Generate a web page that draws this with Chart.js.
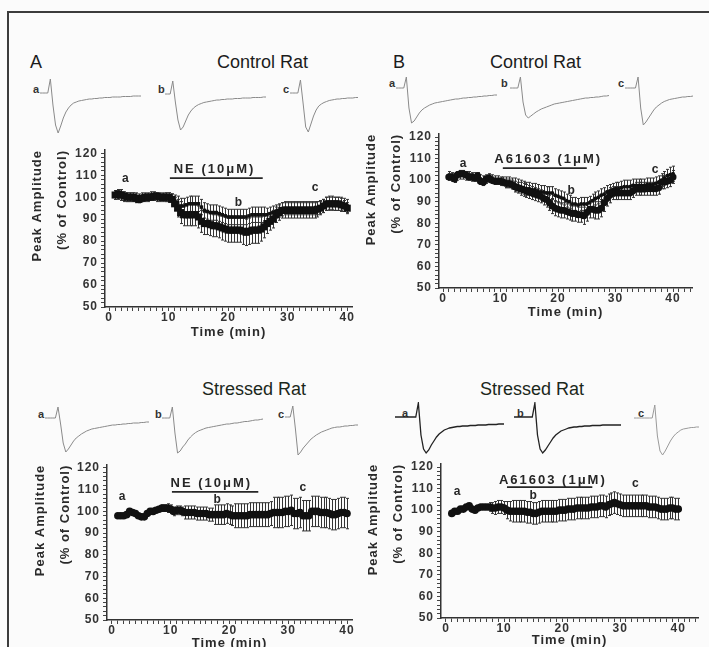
<!DOCTYPE html>
<html><head><meta charset="utf-8">
<script src="https://cdn.jsdelivr.net/npm/chart.js@4.4.1/dist/chart.umd.min.js"></script>
<style>
html,body{margin:0;padding:0;width:709px;height:647px;overflow:hidden;background:#fbfbfb;}
#root{position:relative;width:709px;height:647px;overflow:hidden;}
canvas{position:absolute;}
.t{position:absolute;font-family:"Liberation Sans",Arial,sans-serif;line-height:1;white-space:nowrap;color:#1c1c1c;}
.big{font-size:18px;}
.stress{color:#1b281b;}
.lab{font-size:11px;font-weight:bold;color:#333;}
.frameTop{position:absolute;left:7px;top:11px;width:702px;height:2px;background:#3c3c3c;}
.frameLeft{position:absolute;left:7px;top:11px;width:2px;height:636px;background:#3c3c3c;}
</style></head><body><div id="root">
<div class="frameTop"></div><div class="frameLeft"></div>
<div class="t big" style="left:30px;top:53px">A</div>
<div class="t big" style="left:217px;top:53px">Control Rat</div>
<div class="t big" style="left:393px;top:53px">B</div>
<div class="t big" style="left:490px;top:53px">Control Rat</div>
<div class="t big stress" style="left:202px;top:380px">Stressed Rat</div>
<div class="t big stress" style="left:480px;top:380px">Stressed Rat</div>
<div class="t lab" style="left:33px;top:84px">a</div>
<div class="t lab" style="left:158px;top:84px">b</div>
<div class="t lab" style="left:283px;top:84px">c</div>
<div class="t lab" style="left:389px;top:78px">a</div>
<div class="t lab" style="left:501px;top:78px">b</div>
<div class="t lab" style="left:618px;top:78px">c</div>
<div class="t lab" style="left:38px;top:409px">a</div>
<div class="t lab" style="left:155px;top:409px">b</div>
<div class="t lab" style="left:278px;top:409px">c</div>
<div class="t lab" style="left:402px;top:408px">a</div>
<div class="t lab" style="left:517px;top:408px">b</div>
<div class="t lab" style="left:638px;top:408px">c</div>
</div>
<script>
// ---------- data ----------
const timeMin = [1,1.5,2,2.5,3,3.5,4,4.5,5,5.5,
 6,6.5,7,7.5,8,8.5,9,9.5,10,10.5,
 11,11.5,12,12.5,13,13.5,14,14.5,15,15.5,
 16,16.5,17,17.5,18,18.5,19,19.5,20,20.5,
 21,21.5,22,22.5,23,23.5,24,24.5,25,25.5,
 26,26.5,27,27.5,28,28.5,29,29.5,30,30.5,
 31,31.5,32,32.5,33,33.5,34,34.5,35,35.5,
 36,36.5,37,37.5,38,38.5,39,39.5,40];
const xTickLabels = [0,10,20,30,40];
const yTickLabels = [50,60,70,80,90,100,110,120];

// Control rat, NE (10 uM)
const ctrlNE_mean = [101,101.5,101,100.5,100,100,100,99.5,99,99.5,
 100,100,100,100.5,100.5,100,100,100,100,99,
 97,95,93,92,92,92,92,92,91,89,
 88,88,87.5,87,87,86.5,86,85.5,85,85,
 85,85,85,84.5,84,84.5,85,85,85,85.5,
 86.5,88,89,90,92,93,94,94,94,94,
 94,94,94,94,94,94,94,94,94.5,95,
 96,97,97,97,97,97,96.5,96,95];
const ctrlNE_sem = [2,2,2.5,2,2,2,2,2,1.5,1.5,
 1.5,1.5,1.5,1.5,1.5,1.5,1.5,2,2,2.5,
 3,4,5,5,5,5,5,5,5,5,
 5,5,5,5,5,5,5.5,5.5,5.5,5.5,
 5.5,5.5,5.5,6,6,6,6,6,6,5.5,
 5,4.5,4,4,3.5,3.5,3.5,3.5,3.5,3.5,
 3.5,3.5,3.5,3.5,3.5,3.5,3.5,3.5,3.5,3,
 3,3,3,3,3,3,3,2.5,2.5];
const ctrlNE2_mean = [101,101,100.5,100,100,100,100,100,99.5,100,
 100,100,100.5,100.5,100,100,100,100,100,99.5,
 98.5,97.5,96,96,96.5,97,97,97,97,95.5,
 94,93.5,93,93,93,92.5,92,91.5,91,91,
 91,91,91,91,91,91.5,92,92,92,92,
 92,92,92.5,93,93.5,94,94.5,95,95,95,
 95,95,95,95,95,95,95,95,95,95.5,
 96,97,97.5,97.5,97,97,97,96.5,96];
const ctrlNE2_sem = [2,2,2,2,2,2,2,2,2,2,
 2,2,2,2,2,2,2,2,2,2,
 2.5,3,3.5,3.5,3.5,3.5,3.5,3.5,3.5,3.5,
 3.5,3.5,3.5,3.5,3.5,3.5,3.5,3.5,3.5,3.5,
 3.5,3.5,3.5,3.5,3.5,3.5,3.5,3.5,3.5,3.5,
 3.5,3,3,3,3,3,3,3,3,3,
 3,3,3,3,3,3,3,3,3,3,
 3,3,3,3,3,3,3,3,3];

// Control rat, A61603 (1 uM)
const ctrlA6_mean = [101.5,101.5,100.5,102.5,103,103,102.5,101.5,101.5,101,
 102,99.5,99,100.5,101,100,99.5,99.5,99.5,99,
 98.5,98.5,98,97,96.5,96,95.5,95,94.5,94,
 93.5,93,92.5,91.5,91,89.5,88,87,86.5,86,
 86,85.5,85,84.5,84.5,84,84,83.5,85,86.5,
 86.5,86,86,87,89.5,91.5,93,94,94,94,
 94,94,94,94,95,96,96,96,96,96,
 96,96,96,96.5,99,99,99.5,100,101.5];
const ctrlA6_sem = [1.5,1.5,1.5,1.5,1.5,1.5,1.5,1.5,1.5,1.5,
 1.5,1.5,1.5,1.5,1.5,1.5,1.5,1.5,1.5,1.5,
 2,2,2,2.5,2.5,3,3,3,3,3,
 3,3,3,3,3.5,3.5,3.5,3.5,3.5,3.5,
 3.5,3.5,3.5,3.5,3.5,3.5,3.5,4,4,4,
 4,4,4,4,4,3.5,3.5,3,3,3,
 3,3,3,3,3,3,3,3,3,3,
 3,3,3,3,3,3,3,3,3];
const ctrlA62_mean = [102,101.5,101,102,102.5,102.5,102,102,101.5,101.5,
 101.5,100.5,100,100.5,101,100.5,100,100,99.5,99.5,
 99,99,98.5,98,97.5,97,96.5,96,96,95.5,
 95.5,95,94.5,94.5,94,94,94,93,92.5,92,
 91.5,90.5,90,89,89,88.5,89,89,89,89.5,
 90.5,91.5,92,93,93.5,94.5,95,95.5,96,96,
 96.5,97,97,97,97.5,97.5,97.5,97.5,97.5,98,
 98,98,98.5,99,100,101,102,102.5,103];
const ctrlA62_sem = [2,2,2,2,2,2,2,2,2,2,
 2,2,2,2,2,2,2,2,2,2,
 2.5,2.5,2.5,3,3,3,3,3,3,3,
 3,3,3,3,3,3,3,3,3,3,
 3,3,3,3,3,3,3,3,3,3,
 3,3,3,3,3,3,3,3,3,3,
 3,3,3,3,3,3,3,3,3,3,
 3,3,3,3,3,3,3,3.5,3.5];

// Stressed rat, NE (10 uM)
const strNE_mean = [98,98,98,98.5,100,99.5,99,98,97.5,97.5,
 99,100,100,100.5,101,101.5,101.5,101.5,101,100,
 100.5,100.5,100,99.5,99.5,99.5,99.5,99,99,99,
 99,98.5,98.5,98.5,98.5,98.5,98.5,99,98.5,98,
 98,98,98,98,98,98.5,98.5,98.5,98.5,98.5,
 98.5,98.5,99,99.5,99.5,99.5,99.5,100,100,100.5,
 99,99,99.5,98,98,98,100,100,100,99.5,
 99.5,99.5,99,98.5,98.5,99,99.5,99.5,99];
const strNE_sem = [1,1,1,1,1,1,1,1,1,1,
 1,1,1,1,1,1.5,1.5,2,2,2,
 2,2,2,3,3,3,3,3,3,3,
 3,3,3,4.5,4.5,4.5,4.5,4.5,4.5,4.5,
 5.5,5.5,5.5,5.5,5.5,5.5,5.5,5.5,5.5,5.5,
 5.5,5.5,5.5,7,7,7,7,7,7,7,
 7,7,7,7,7,7,7,7,7,7,
 7,7,7,7,7,7,7,7,7];

// Stressed rat, A61603 (1 uM)
const strA6_mean = [98.5,99.5,99.5,100.5,100.5,101.5,102,100.5,100,101,
 101.5,101.5,101.5,101.5,101,101,101.5,101.5,101,100,
 99.5,99.5,99.5,99.5,99.5,99.5,99,99,98.5,98.5,
 99,99.5,99.5,99.5,99.5,99.5,99.5,100,100,100,
 100.5,100.5,100.5,101,101,101,101,101,101.5,101.5,
 101.5,102,102,101.5,102.5,103,103.5,103,102.5,102,
 102,102,102,102,102,102,102,102,101.5,101.5,
 101.5,101,100.5,100.5,100.5,101,101,100.5,100.5];
const strA6_sem = [1,1,1,1,1,1,1,1,1,1,
 1,1,1,2,2.5,3,3,3,3,4,
 4.5,5,5,5,5,5,5,5,5,5,
 5,5,5,5,5,5,5,5,5,5,
 5,5,5,5,5,5,5,5,5,5,
 5,5,5,5,5,5,5,5,5,5,
 5,5,5,5,5,5,5,5,5,5,
 5,5,5,5,5,5,5,5,5];

// example current traces (baseline = 0, arbitrary units)
const trCtrlNE_a = [0,0,0,0,14,-12,-32,-40,-33,-25,-19,-15,-12,-10,-9,-8,-7.5,-7,-6.5,-6,-6,-5.5,-5.5,-5,-5,-4.5,-4.5,-4.5,-4,-4,-4,-4,-3.5,-3.5,-3.5,-3.5,-3,-3,-3,-3];
const trCtrlNE_b = [0,0,0,13,-8,-26,-36,-33,-27,-21,-17,-14,-12,-10.5,-9.5,-8.5,-8,-7.5,-7,-6.5,-6,-6,-5.5,-5.5,-5,-5,-5,-4.5,-4.5,-4.5,-4,-4,-4,-4,-3.5,-3.5,-3.5,-3.5,-3,-3];
const trCtrlNE_c = [0,0,0,0,13,-10,-34,-39,-31,-23,-17,-13,-11,-9.5,-8.5,-7.5,-7,-6.5,-6,-6,-5.5,-5.5,-5,-5,-5,-4.5,-4.5];
const trCtrlA6_a = [0,0,0,0,11,-20,-35,-33,-29,-25,-22,-20,-18.5,-17,-16,-15,-14.5,-14,-13.5,-13,-12.5,-12,-11.5,-11,-11,-10.5,-10,-10,-9.5,-9.5,-9,-9,-8.5,-8.5,-8,-8,-7.5,-7.5,-7,-7];
const trCtrlA6_b = [0,0,0,0,11,-14,-27,-30,-28,-26,-24,-22.5,-21,-20,-19,-18,-17,-16,-15.5,-15,-14.5,-14,-13.5,-13,-12.5,-12,-11.5,-11,-10.5,-10,-10,-9.5,-9.5,-9,-9,-8.5,-8,-8,-7.5];
const trCtrlA6_c = [0,0,0,0,0,11,-20,-37,-34,-30,-26,-22,-19,-17,-15,-13.5,-12.5,-11.5,-11,-10.5,-10,-9.5,-9,-9,-8.5,-8.5,-8];
const trStrNE_a = [0,0,0,0,0,11,-6,-25,-34,-31,-27,-23,-20,-18,-16,-14.5,-13,-12,-11,-10.5,-10,-9.5,-9,-8.5,-8,-7.5,-7,-7,-6.5,-6.5,-6,-6,-5.5,-5.5,-5,-5,-5,-4.5,-4.5,-4,-4];
const trStrNE_b = [0,0,0,0,11,-15,-35,-33,-29,-26,-22,-19,-16.5,-14.5,-13,-12,-11,-10,-9.5,-9,-8.5,-8,-7.5,-7,-6.5,-6,-6,-5.5,-5,-5,-4.5,-4,-3.5,-3.5,-3,-2.5,-2,-2,-1.5,-1];
const trStrNE_c = [0,0,0,11,-12,-38,-35,-31,-28,-25,-22,-20,-18,-16.5,-15,-14,-13,-12,-11,-10.5,-10,-10,-9.5,-9,-9,-8.5,-8.5,-8,-8];
const trStrA6_a = [0,0,0,0,0,0,0,0,0,14,-18,-32,-36,-33,-28,-24,-20,-17,-15,-13,-12,-11,-10.5,-10,-9.5,-9.5,-9,-9,-9,-8.5,-8.5,-8.5,-8,-8,-8,-8,-7.5,-7.5,-7.5,-7.5,-7,-7,-7];
const trStrA6_b = [0,0,0,0,0,0,0,0,14,-18,-32,-36,-33,-29,-25,-21,-18,-16,-14,-13,-12,-11,-10.5,-10,-10,-9.5,-9.5,-9,-9,-9,-8.5,-8.5,-8.5,-8.5,-8,-8,-8,-8,-8,-8,-8,-8];
const trStrA6_c = [0,0,0,0,0,0,0,0,13,-18,-33,-37,-33,-28,-23,-19,-16,-14,-12,-11,-10.5,-10,-9.5,-9.5,-9,-9];

// ---------- rendering ----------
const FONT = '"Liberation Sans", Arial, sans-serif';
const root = document.getElementById('root');

const spacingPlugin = {
  id: 'spacing',
  beforeDraw(chart) { chart.ctx.letterSpacing = '1px'; }
};

const errorBarPlugin = {
  id: 'errorBars',
  beforeDatasetsDraw(chart) {
    const ctx = chart.ctx, xs = chart.scales.x, ys = chart.scales.y;
    chart.data.datasets.forEach(ds => {
      if (!ds.errors) return;
      ctx.save();
      ctx.strokeStyle = ds.errorColor || '#333';
      ctx.lineWidth = 1;
      ds.data.forEach((p, i) => {
        const e = ds.errors[i];
        const x = Math.round(xs.getPixelForValue(p.x)) + 0.5;
        const y1 = ys.getPixelForValue(p.y + e), y2 = ys.getPixelForValue(p.y - e);
        ctx.beginPath();
        ctx.moveTo(x, y1); ctx.lineTo(x, y2);
        ctx.moveTo(x - 1.5, y1); ctx.lineTo(x + 1.5, y1);
        ctx.moveTo(x - 1.5, y2); ctx.lineTo(x + 1.5, y2);
        ctx.stroke();
      });
      ctx.restore();
    });
  }
};

const annotPlugin = {
  id: 'annot',
  afterDatasetsDraw(chart, args, opts) {
    if (!opts || !opts.bar) return;
    const ctx = chart.ctx, xs = chart.scales.x, ys = chart.scales.y;
    ctx.save();
    ctx.strokeStyle = '#262626'; ctx.lineWidth = 1.8;
    const by = ys.getPixelForValue(opts.bar.y);
    ctx.beginPath();
    ctx.moveTo(xs.getPixelForValue(opts.bar.from), by);
    ctx.lineTo(xs.getPixelForValue(opts.bar.to), by);
    ctx.stroke();
    ctx.fillStyle = '#262626';
    ctx.font = 'bold 13px ' + FONT;
    ctx.letterSpacing = '2px';
    ctx.textAlign = 'center'; ctx.textBaseline = 'alphabetic';
    ctx.fillText(opts.bar.text, xs.getPixelForValue(opts.bar.textX), ys.getPixelForValue(opts.bar.textY));
    ctx.letterSpacing = '0px';
    ctx.font = 'bold 12px ' + FONT;
    ctx.textBaseline = 'middle';
    opts.letters.forEach(l => ctx.fillText(l.t, xs.getPixelForValue(l.x), ys.getPixelForValue(l.y)));
    ctx.restore();
  }
};

function makeCanvas(left, top, w, h) {
  const c = document.createElement('canvas');
  c.width = w; c.height = h;
  c.style.left = left + 'px'; c.style.top = top + 'px';
  c.style.width = w + 'px'; c.style.height = h + 'px';
  root.appendChild(c);
  return c;
}

// axis tick marks: minor every 1 min on x, every 2 % on y; labels only at the listed values
function xTicks(s) { const t = []; for (let v = 0; v <= s.max; v += 1) t.push({value: v}); s.ticks = t; }
function yTicks(s) { const t = []; for (let v = 50; v <= 120; v += 2) t.push({value: v}); s.ticks = t; }

function mainChart(p) {
  const canvasLeft = p.titleLeft;
  const yW = p.axisX - canvasLeft;
  const canvasTop = Math.floor(p.chartTop) - 4;
  const padTop = p.chartTop - canvasTop;
  const w = Math.ceil(p.right - canvasLeft + 6);
  const padRight = w - (p.right - canvasLeft);
  const h = Math.ceil(p.chartBottom + p.xH - canvasTop);
  const padBottom = h - (p.chartBottom - canvasTop) - p.xH;
  const c = makeCanvas(canvasLeft, canvasTop, w, h);
  const tickFont = {family: FONT, size: 12, weight: 'bold', lineHeight: 1};
  const titleFont = {family: FONT, size: 13, weight: 'bold', lineHeight: 1.2};
  const datasets = p.series.map(s => ({
    data: timeMin.map((t, i) => ({x: t, y: s.mean[i]})),
    errors: s.sem,
    pointStyle: s.style,
    pointRadius: s.r,
    pointBackgroundColor: '#111',
    pointBorderColor: '#111',
    pointBorderWidth: 0,
    showLine: false
  }));
  new Chart(c, {
    type: 'scatter',
    data: {datasets},
    options: {
      responsive: false, animation: false, events: [],
      layout: {padding: {left: 0, top: padTop, right: padRight, bottom: padBottom}},
      plugins: {legend: {display: false}, tooltip: {enabled: false}, annot: p.annot},
      scales: {
        x: {
          type: 'linear', min: p.xmin, max: p.xmax, bounds: 'data',
          afterBuildTicks: xTicks,
          border: {display: true, color: '#333', width: 1.5},
          grid: {display: true, drawOnChartArea: false, drawTicks: true, tickLength: 4, tickColor: '#444', tickWidth: 1},
          ticks: {autoSkip: false, maxRotation: 0, minRotation: 0, padding: 1, color: '#333', font: tickFont,
            callback: v => xTickLabels.includes(v) ? String(v) : ''},
          title: {display: true, text: 'Time (min)', color: '#2a2a2a', font: titleFont, padding: 0},
          afterFit(s) { s.height = p.xH; s.paddingLeft = 0; s.paddingRight = 0; }
        },
        y: {
          type: 'linear', min: 50, max: 121.5, bounds: 'data',
          afterBuildTicks: yTicks,
          border: {display: true, color: '#333', width: 1.5},
          grid: {display: true, drawOnChartArea: false, drawTicks: true, tickLength: 4, tickColor: '#444', tickWidth: 1},
          ticks: {autoSkip: false, padding: 3, color: '#333', font: tickFont,
            callback: v => yTickLabels.includes(v) ? String(v) : ''},
          title: {display: true, text: ['Peak Amplitude', '(% of Control)'], align: 'end', color: '#2a2a2a',
            font: {family: FONT, size: 13, weight: 'bold', lineHeight: 1.92}, padding: 0},
          afterFit(s) { s.width = yW; s.paddingTop = 0; s.paddingBottom = 0; }
        }
      }
    },
    plugins: [spacingPlugin, errorBarPlugin, annotPlugin]
  });
}

function traceChart(values, startX, baseY, color, lw) {
  const n = values.length, dx = 2.6;
  const w = Math.round((n - 1) * dx + 4), h = 59;
  const c = makeCanvas(startX - 2, baseY - 17, w, h);
  new Chart(c, {
    type: 'line',
    data: {datasets: [{data: values.map((v, i) => ({x: i, y: v})), borderColor: color, borderWidth: lw || 1, pointRadius: 0, tension: 0}]},
    options: {
      responsive: false, animation: false, events: [],
      layout: {padding: 2},
      plugins: {legend: {display: false}, tooltip: {enabled: false}},
      scales: {x: {type: 'linear', display: false, min: 0, max: n - 1}, y: {display: false, min: -40, max: 15}}
    }
  });
}

// Panel A, control
mainChart({
  titleLeft: 25, axisX: 105, right: 352, chartTop: 149.7, chartBottom: 307, xH: 33.3,
  xmin: -0.7, xmax: 40.8,
  series: [
    {mean: ctrlNE_mean, sem: ctrlNE_sem, style: 'rect', r: 5},
    {mean: ctrlNE2_mean, sem: ctrlNE2_sem, style: 'rect', r: 2.5}
  ],
  annot: {bar: {from: 10.2, to: 25.8, y: 108.7, text: 'NE (10μM)', textX: 17.7, textY: 111},
    letters: [{t: 'a', x: 2.7, y: 108.6}, {t: 'b', x: 21.7, y: 97.7}, {t: 'c', x: 34.6, y: 104.5}]}
});
// Panel B, control
mainChart({
  titleLeft: 359, axisX: 439, right: 692, chartTop: 133.8, chartBottom: 288, xH: 31.8,
  xmin: -0.7, xmax: 43.3,
  series: [
    {mean: ctrlA6_mean, sem: ctrlA6_sem, style: 'circle', r: 3.5},
    {mean: ctrlA62_mean, sem: ctrlA62_sem, style: 'circle', r: 2}
  ],
  annot: {bar: {from: 10.4, to: 25.0, y: 105.6, text: 'A61603 (1μM)', textX: 18.3, textY: 108},
    letters: [{t: 'a', x: 3.5, y: 107.5}, {t: 'b', x: 22.3, y: 95.2}, {t: 'c', x: 36.9, y: 104.7}]}
});
// Panel A, stressed
mainChart({
  titleLeft: 28, axisX: 107, right: 352, chartTop: 464.7, chartBottom: 620, xH: 30.8,
  xmin: -0.85, xmax: 40.85,
  series: [{mean: strNE_mean, sem: strNE_sem, style: 'circle', r: 3.8}],
  annot: {bar: {from: 10.2, to: 24.9, y: 109, text: 'NE (10μM)', textX: 16.9, textY: 111.3},
    letters: [{t: 'a', x: 1.7, y: 106.7}, {t: 'b', x: 17.9, y: 105.3}, {t: 'c', x: 32.5, y: 110.8}]}
});
// Panel B, stressed
mainChart({
  titleLeft: 361, axisX: 441, right: 698, chartTop: 463.8, chartBottom: 618, xH: 29.8,
  xmin: -0.86, xmax: 43.4,
  series: [{mean: strA6_mean, sem: strA6_sem, style: 'circle', r: 3.8}],
  annot: {bar: {from: 10.5, to: 25.2, y: 110.7, text: 'A61603 (1μM)', textX: 18.4, textY: 112.1},
    letters: [{t: 'a', x: 1.9, y: 108.4}, {t: 'b', x: 15, y: 106.6}, {t: 'c', x: 32.6, y: 112.1}]}
});

// traces
traceChart(trCtrlNE_a, 40, 93, '#8a8a8a');
traceChart(trCtrlNE_b, 165, 94, '#8a8a8a');
traceChart(trCtrlNE_c, 290, 93, '#8a8a8a');
traceChart(trCtrlA6_a, 396, 88, '#8a8a8a');
traceChart(trCtrlA6_b, 510, 88, '#8a8a8a');
traceChart(trCtrlA6_c, 625, 88, '#8a8a8a');
traceChart(trStrNE_a, 45, 418, '#8a8a8a');
traceChart(trStrNE_b, 162, 418, '#8a8a8a');
traceChart(trStrNE_c, 285, 417, '#8a8a8a');
traceChart(trStrA6_a, 395, 417, '#222', 1.3);
traceChart(trStrA6_b, 514, 417, '#222', 1.3);
traceChart(trStrA6_c, 634, 418, '#9a9a9a');
</script>
</body></html>
